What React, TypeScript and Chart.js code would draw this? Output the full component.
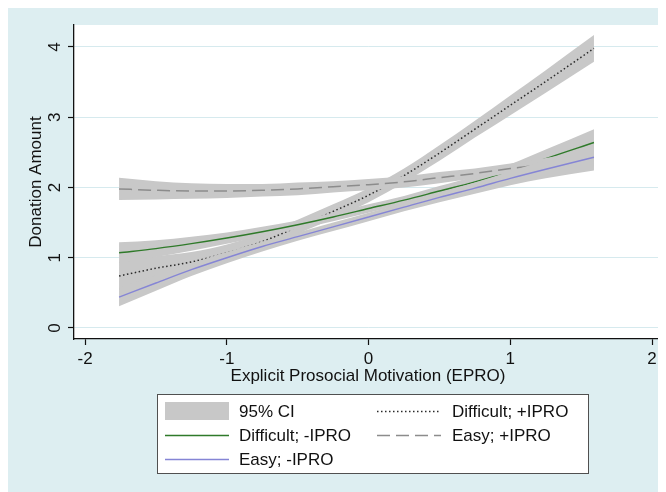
import React, { useEffect, useRef } from "react";
import { Chart, registerables } from "chart.js";

Chart.register(...registerables);

// ---------- data ----------
const X_VALUES = [-1.76, -1.5, -1.25, -1.0, -0.75, -0.5, -0.25, 0, 0.25, 0.5, 0.75, 1.0, 1.25, 1.59];

// Difficult; +IPRO (dotted)
const DIFF_POS_MID = [0.74, 0.85, 0.94, 1.07, 1.23, 1.44, 1.66, 1.89, 2.17, 2.49, 2.83, 3.17, 3.51, 3.98];
const DIFF_POS_LO = [0.54, 0.68, 0.80, 0.95, 1.12, 1.34, 1.56, 1.79, 2.07, 2.38, 2.71, 3.03, 3.35, 3.79];
const DIFF_POS_HI = [0.94, 1.02, 1.08, 1.19, 1.34, 1.54, 1.76, 1.99, 2.27, 2.60, 2.95, 3.31, 3.67, 4.17];

// Difficult; -IPRO (green)
const DIFF_NEG_MID = [1.07, 1.13, 1.20, 1.28, 1.37, 1.47, 1.58, 1.70, 1.82, 1.95, 2.08, 2.23, 2.41, 2.64];
const DIFF_NEG_LO = [0.92, 1.01, 1.10, 1.20, 1.30, 1.41, 1.52, 1.64, 1.76, 1.88, 2.00, 2.13, 2.28, 2.45];
const DIFF_NEG_HI = [1.22, 1.25, 1.30, 1.36, 1.44, 1.53, 1.64, 1.76, 1.88, 2.02, 2.16, 2.33, 2.54, 2.83];

// Easy; +IPRO (dashed)
const EASY_POS_MID = [1.98, 1.96, 1.95, 1.95, 1.96, 1.98, 2.01, 2.04, 2.08, 2.14, 2.20, 2.27, 2.33, 2.42];
const EASY_POS_LO = [1.82, 1.83, 1.84, 1.85, 1.87, 1.89, 1.93, 1.96, 2.00, 2.06, 2.13, 2.20, 2.24, 2.30];
const EASY_POS_HI = [2.14, 2.09, 2.06, 2.05, 2.05, 2.07, 2.09, 2.12, 2.16, 2.22, 2.27, 2.34, 2.42, 2.54];

// Easy; -IPRO (purple)
const EASY_NEG_MID = [0.44, 0.64, 0.83, 1.00, 1.16, 1.30, 1.44, 1.58, 1.72, 1.86, 1.99, 2.13, 2.26, 2.43];
const EASY_NEG_LO = [0.31, 0.53, 0.74, 0.92, 1.09, 1.24, 1.38, 1.52, 1.66, 1.79, 1.91, 2.03, 2.13, 2.24];
const EASY_NEG_HI = [0.57, 0.75, 0.92, 1.08, 1.23, 1.36, 1.50, 1.64, 1.78, 1.93, 2.07, 2.23, 2.39, 2.62];

const X_TICKS = [-2, -1, 0, 1, 2];
const Y_TICKS = [0, 1, 2, 3, 4];
const X_TITLE = "Explicit Prosocial Motivation (EPRO)";
const Y_TITLE = "Donation Amount";
const CI_LABEL = "95% CI";
const LABEL_DIFF_POS = "Difficult; +IPRO";
const LABEL_DIFF_NEG = "Difficult; -IPRO";
const LABEL_EASY_POS = "Easy; +IPRO";
const LABEL_EASY_NEG = "Easy; -IPRO";

// ---------- styles ----------
const BG = "rgb(221,238,241)";
const GRID = "rgb(214,234,238)";
const CI_COLOR = "#c8c8c8";
const FONT = "17px Arial, 'Liberation Sans', sans-serif";
const W = 658;
const H = 484;

const SERIES = [
  { label: LABEL_DIFF_POS, mid: DIFF_POS_MID, lo: DIFF_POS_LO, hi: DIFF_POS_HI, color: "#2a2a2a", width: 1.5, dash: [1.5, 2.5] },
  { label: LABEL_DIFF_NEG, mid: DIFF_NEG_MID, lo: DIFF_NEG_LO, hi: DIFF_NEG_HI, color: "#2f7a2a", width: 1.4, dash: [] },
  { label: LABEL_EASY_POS, mid: EASY_POS_MID, lo: EASY_POS_LO, hi: EASY_POS_HI, color: "#8c8c8c", width: 1.5, dash: [13, 6] },
  { label: LABEL_EASY_NEG, mid: EASY_NEG_MID, lo: EASY_NEG_LO, hi: EASY_NEG_HI, color: "#8585d5", width: 1.4, dash: [] },
];

const pts = (arr: number[]) => X_VALUES.map((x, i) => ({ x, y: arr[i] }));

function buildDatasets() {
  const ds: any[] = [];
  SERIES.forEach((s) => {
    const base = ds.length;
    ds.push({
      label: s.label + " upper",
      data: pts(s.hi),
      fill: "+1",
      backgroundColor: CI_COLOR,
      borderColor: "rgba(0,0,0,0)",
      borderWidth: 0,
      pointRadius: 0,
      cubicInterpolationMode: "monotone",
      order: 100 - base,
    });
    ds.push({
      label: s.label + " lower",
      data: pts(s.lo),
      fill: false,
      backgroundColor: CI_COLOR,
      borderColor: "rgba(0,0,0,0)",
      borderWidth: 0,
      pointRadius: 0,
      cubicInterpolationMode: "monotone",
      order: 100 - base - 1,
    });
    ds.push({
      label: s.label,
      data: pts(s.mid),
      fill: false,
      borderColor: s.color,
      borderWidth: s.width,
      borderDash: s.dash,
      pointRadius: 0,
      cubicInterpolationMode: "monotone",
      order: 100 - base - 2,
    });
  });
  return ds;
}

const decorPlugin = {
  id: "decor",
  beforeDraw(chart: any) {
    const { ctx, chartArea: a } = chart;
    ctx.save();
    ctx.fillStyle = BG;
    ctx.fillRect(0, 0, chart.width, chart.height);
    ctx.fillStyle = "#ffffff";
    ctx.fillRect(a.left, a.top, a.right - a.left, a.bottom - a.top);
    ctx.restore();
  },
  afterDraw(chart: any) {
    const { ctx, chartArea: a } = chart;
    const xs = chart.scales.x;
    const ys = chart.scales.y;
    ctx.save();
    ctx.font = FONT;
    ctx.fillStyle = "#111";
    ctx.textBaseline = "middle";
    ctx.textAlign = "center";

    // x tick labels
    X_TICKS.forEach((v) => {
      ctx.fillText(String(v), xs.getPixelForValue(v), a.bottom + 20);
    });
    // y tick labels (rotated)
    Y_TICKS.forEach((v) => {
      ctx.save();
      ctx.translate(a.left - 19, ys.getPixelForValue(v));
      ctx.rotate(-Math.PI / 2);
      ctx.fillText(String(v), 0, 0);
      ctx.restore();
    });
    // axis titles
    ctx.fillText(X_TITLE, (a.left + a.right) / 2, a.bottom + 37);
    ctx.save();
    ctx.translate(a.left - 38, (a.top + a.bottom) / 2);
    ctx.rotate(-Math.PI / 2);
    ctx.fillText(Y_TITLE, 0, 0);
    ctx.restore();

    // legend
    const bx = 149, by = 386, bw = 431, bh = 79;
    ctx.fillStyle = "#ffffff";
    ctx.fillRect(bx, by, bw, bh);
    ctx.strokeStyle = "#505050";
    ctx.lineWidth = 1;
    ctx.strokeRect(bx + 0.5, by + 0.5, bw, bh);

    const rows = [403, 427, 451];
    const c1 = 157, c2 = 369, sw = 64, tg = 74;
    const drawLine = (x: number, y: number, s: any) => {
      ctx.save();
      ctx.strokeStyle = s.color;
      ctx.lineWidth = s.width;
      ctx.setLineDash(s.dash);
      ctx.beginPath();
      ctx.moveTo(x, y + 0.5);
      ctx.lineTo(x + sw, y + 0.5);
      ctx.stroke();
      ctx.restore();
    };
    ctx.textAlign = "left";
    ctx.fillStyle = CI_COLOR;
    ctx.fillRect(c1, rows[0] - 9, sw, 18);
    ctx.fillStyle = "#111";
    ctx.fillText(CI_LABEL, c1 + tg, rows[0] + 1);
    // row-major ordering: CI, Diff+, Diff-, Easy+, Easy-
    drawLine(c2, rows[0], SERIES[0]);
    ctx.fillText(SERIES[0].label, c2 + tg + 1, rows[0] + 1);
    drawLine(c1, rows[1], SERIES[1]);
    ctx.fillText(SERIES[1].label, c1 + tg, rows[1] + 1);
    drawLine(c2, rows[1], SERIES[2]);
    ctx.fillText(SERIES[2].label, c2 + tg + 1, rows[1] + 1);
    drawLine(c1, rows[2], SERIES[3]);
    ctx.fillText(SERIES[3].label, c1 + tg, rows[2] + 1);
    ctx.restore();
  },
};

export default function App() {
  const ref = useRef<HTMLCanvasElement>(null);
  useEffect(() => {
    if (!ref.current) return;
    const chart = new Chart(ref.current, {
      type: "line",
      data: { datasets: buildDatasets() },
      options: {
        animation: false,
        responsive: false,
        devicePixelRatio: 1,
        events: [],
        layout: { padding: { top: 17, right: 4, left: 0, bottom: 0 } },
        plugins: { legend: { display: false }, tooltip: { enabled: false } },
        scales: {
          x: {
            type: "linear",
            min: -2.078,
            max: 2.07,
            afterBuildTicks: (s: any) => {
              s.ticks = X_TICKS.map((v) => ({ value: v }));
            },
            afterFit: (s: any) => {
              s.height = H - 331;
            },
            ticks: { display: false },
            grid: { drawOnChartArea: false, drawTicks: true, tickLength: 6, tickColor: "#111", tickWidth: 1.2 },
            border: { display: true, color: "#111", width: 1.3 },
          },
          y: {
            type: "linear",
            min: -0.157,
            max: 4.313,
            afterBuildTicks: (s: any) => {
              s.ticks = Y_TICKS.map((v) => ({ value: v }));
            },
            afterFit: (s: any) => {
              s.width = 66;
            },
            ticks: { display: false },
            grid: { color: GRID, lineWidth: 1, drawTicks: true, tickLength: 6, tickColor: "#111", tickWidth: 1.2 },
            border: { display: true, color: "#111", width: 1.3 },
          },
        },
      } as any,
      plugins: [decorPlugin],
    });
    return () => chart.destroy();
  }, []);
  return (
    <div style={{ width: W, height: H, background: BG }}>
      <canvas ref={ref} width={W} height={H} style={{ display: "block", width: W, height: H }} />
    </div>
  );
}
